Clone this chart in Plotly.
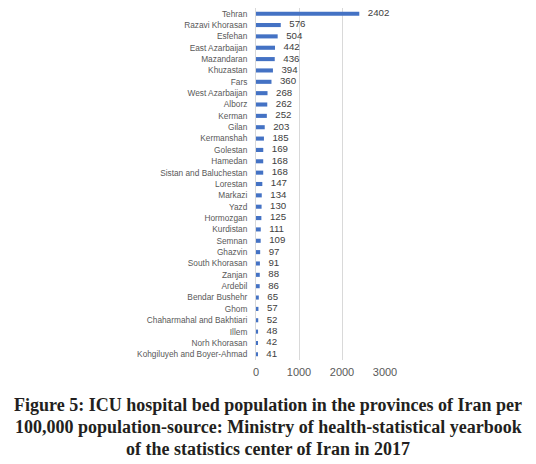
import plotly.graph_objects as go

provinces = ["Tehran", "Razavi Khorasan", "Esfehan", "East Azarbaijan", "Mazandaran",
             "Khuzastan", "Fars", "West Azarbaijan", "Alborz", "Kerman", "Gilan",
             "Kermanshah", "Golestan", "Hamedan", "Sistan and Baluchestan", "Lorestan",
             "Markazi", "Yazd", "Hormozgan", "Kurdistan", "Semnan", "Ghazvin",
             "South Khorasan", "Zanjan", "Ardebil", "Bendar Bushehr", "Ghom",
             "Chaharmahal and Bakhtiari", "Illem", "Norh Khorasan",
             "Kohgiluyeh and Boyer-Ahmad"]
beds = [2402, 576, 504, 442, 436, 394, 360, 268, 262, 252, 203, 185, 169, 168, 168,
        147, 134, 130, 125, 111, 109, 97, 91, 88, 86, 65, 57, 52, 48, 42, 41]
x_ticks = [0, 1000, 2000, 3000]

caption_lines = [
    "Figure 5: ICU hospital bed population in the provinces of Iran per",
    "100,000 population-source: Ministry of health-statistical yearbook",
    "of the statistics center of Iran in 2017",
]

# The page body adds an 8px margin, so the figure is drawn 8px smaller.
W, H = 528, 456
ML, MR, MT, MB = 248, 151, 0, 104

fig = go.Figure()
fig.add_trace(go.Bar(
    x=beds, y=provinces, orientation="h",
    marker=dict(color="#4472C4", line=dict(width=0)),
    hoverinfo="x+y",
))
fig.add_trace(go.Scatter(
    x=beds, y=provinces, mode="markers+text",
    marker=dict(size=12, opacity=0),
    text=[str(v) for v in beds], textposition="middle right",
    textfont=dict(family="Liberation Sans", size=9.7, color="#404040"),
    cliponaxis=False, hoverinfo="skip",
))

plot_w = W - ML - MR
plot_h = H - MT - MB
annotations = []
for i, line in enumerate(caption_lines):
    y_px = 397 + 22 * i  # centre of the line in figure pixels
    annotations.append(dict(
        text="<b>" + line + "</b>", xref="paper", yref="paper",
        x=(260 - ML) / plot_w, y=(H - MB - y_px) / plot_h,
        xanchor="center", yanchor="middle", showarrow=False,
        font=dict(family="Liberation Serif", size=18, color="#231f20"),
    ))

n = len(provinces)
fig.update_layout(
    width=W, height=H,
    margin=dict(l=ML, r=MR, t=MT, b=MB, autoexpand=False),
    paper_bgcolor="white", plot_bgcolor="white",
    bargap=0.64,
    showlegend=False,
    xaxis=dict(range=[0, 3000], tickvals=x_ticks, showgrid=True, gridcolor="#d9d9d9",
               gridwidth=1, zeroline=False, showline=False, ticklabelstandoff=4,
               tickfont=dict(family="Liberation Sans", size=11, color="#595959")),
    yaxis=dict(type="category", categoryorder="array", categoryarray=provinces,
               range=[n - 0.5, -0.5], showgrid=False, showline=True, linecolor="#d9d9d9",
               linewidth=1, ticks="", ticklabelstandoff=6,
               tickfont=dict(family="Liberation Sans", size=8.3, color="#595959")),
    annotations=annotations,
)

fig.write_html("out.html")
